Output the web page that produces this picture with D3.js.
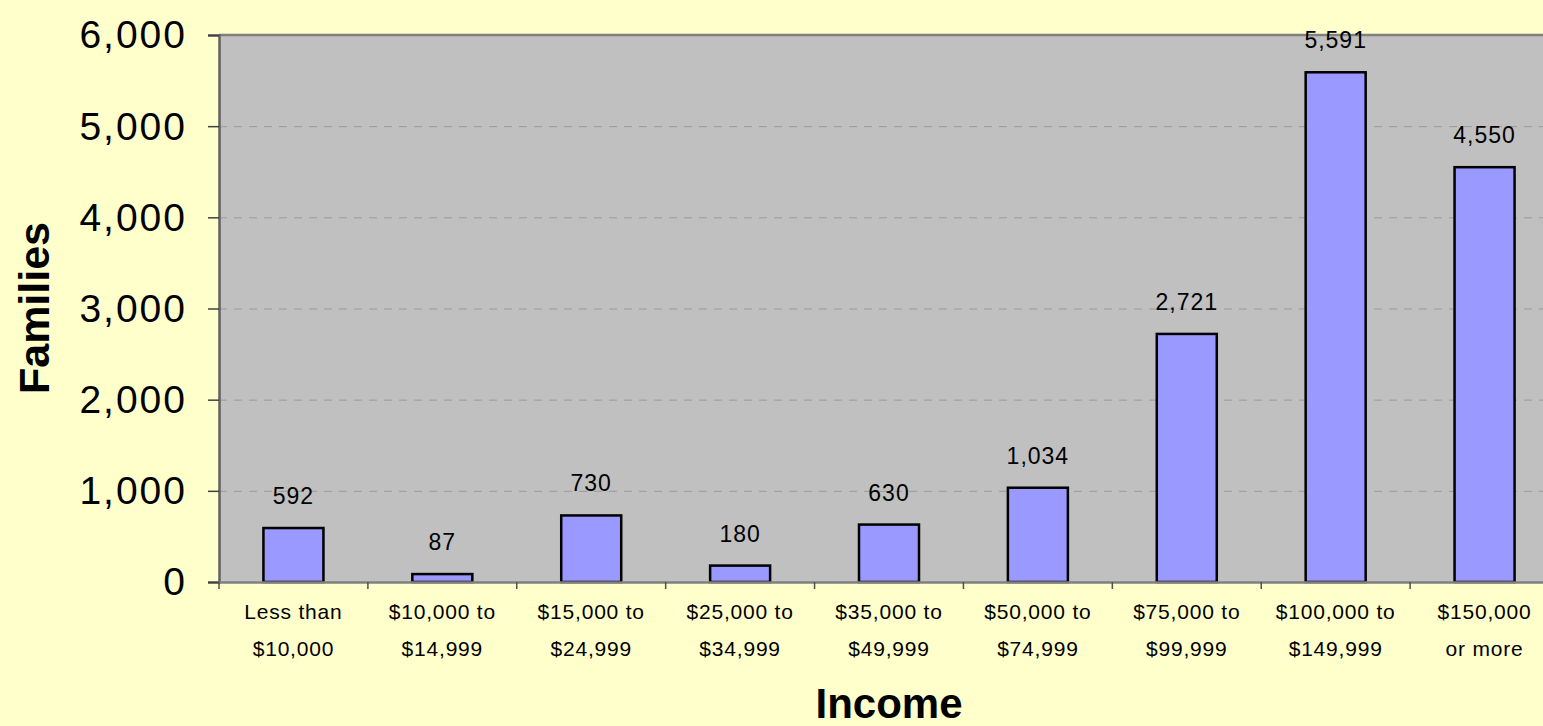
<!DOCTYPE html>
<html>
<head>
<meta charset="utf-8">
<script src="https://cdn.jsdelivr.net/npm/d3@7"></script>
<style>
  body { margin: 0; background: #ffffcc; }
  svg { display: block; font-family: "Liberation Sans", Arial, sans-serif; }
</style>
</head>
<body>
<svg width="1543" height="726"></svg>
<script>
const categories = ['Less than $10,000', '$10,000 to $14,999', '$15,000 to $24,999', '$25,000 to $34,999',
  '$35,000 to $49,999', '$50,000 to $74,999', '$75,000 to $99,999', '$100,000 to $149,999', '$150,000 or more'];
const categoryLines = [
  ['Less than', '$10,000'], ['$10,000 to', '$14,999'], ['$15,000 to', '$24,999'], ['$25,000 to', '$34,999'],
  ['$35,000 to', '$49,999'], ['$50,000 to', '$74,999'], ['$75,000 to', '$99,999'], ['$100,000 to', '$149,999'],
  ['$150,000', 'or more']
];
const families = [592, 87, 730, 180, 630, 1034, 2721, 5591, 4550];
const yTicks = [0, 1000, 2000, 3000, 4000, 5000, 6000];

const data = categories.map((c, i) => ({ category: c, lines: categoryLines[i], value: families[i] }));

const marginLeft = 219, marginTop = 35;
const width = 1340;   // plot runs past the right edge of the picture
const height = 547;

const svg = d3.select('svg');
svg.append('rect').attr('width', 1543).attr('height', 726).attr('fill', '#ffffcc');

const chart = svg.append('g').attr('transform', `translate(${marginLeft}, ${marginTop})`);

const yScale = d3.scaleLinear().range([height, 0]).domain([0, 6000]);
const xScale = d3.scaleBand().range([0, width]).domain(categories);

// plot background
chart.append('rect')
  .attr('width', width)
  .attr('height', height)
  .attr('fill', '#c0c0c0');

// dashed grid
chart.append('g')
  .selectAll('line')
  .data(yTicks.filter(t => t > 0 && t < 6000))
  .enter()
  .append('line')
  .attr('x1', 0)
  .attr('x2', width)
  .attr('y1', d => yScale(d) + 0.5)
  .attr('y2', d => yScale(d) + 0.5)
  .attr('stroke', '#9a9a9a')
  .attr('stroke-width', 1)
  .attr('stroke-dasharray', '8,7');

// top border
chart.append('line')
  .attr('x1', 0).attr('x2', width)
  .attr('y1', 0).attr('y2', 0)
  .attr('stroke', '#808080').attr('stroke-width', 2.5);

// bars
chart.selectAll('.bar')
  .data(data)
  .enter()
  .append('rect')
  .attr('class', 'bar')
  .attr('x', d => xScale(d.category) + xScale.bandwidth() / 2 - 30)
  .attr('y', d => yScale(d.value))
  .attr('width', 60)
  .attr('height', d => height - yScale(d.value))
  .attr('fill', '#9999ff')
  .attr('stroke', '#000')
  .attr('stroke-width', 2.5);

// value labels
chart.selectAll('.val')
  .data(data)
  .enter()
  .append('text')
  .attr('class', 'val')
  .attr('x', d => xScale(d.category) + xScale.bandwidth() / 2)
  .attr('y', d => yScale(d.value) - 24)
  .attr('text-anchor', 'middle')
  .attr('font-size', 23)
  .attr('letter-spacing', 1)
  .attr('fill', '#000')
  .text(d => d3.format(',')(d.value));

// y axis
const yAxis = chart.append('g')
  .call(d3.axisLeft(yScale).tickValues(yTicks).tickSize(11).tickPadding(21).tickFormat(d3.format(',')));
yAxis.select('.domain').attr('stroke', '#606060').attr('stroke-width', 2.5);
yAxis.selectAll('.tick line').attr('stroke', '#404040').attr('stroke-width', 1.5);
yAxis.selectAll('.tick text').attr('font-size', 39).attr('fill', '#000').attr('dy', '0.33em')
  .attr('letter-spacing', 2)
  .attr('font-family', '"Liberation Sans", Arial, sans-serif');

// x axis
const xAxis = chart.append('g')
  .attr('transform', `translate(0, ${height})`)
  .call(d3.axisBottom(xScale).tickSize(0).tickFormat(''));
xAxis.select('.domain').attr('stroke', '#808080').attr('stroke-width', 2.5);

// category boundary ticks
chart.append('g')
  .selectAll('line')
  .data(categories)
  .enter()
  .append('line')
  .attr('x1', d => xScale(d))
  .attr('x2', d => xScale(d))
  .attr('y1', height)
  .attr('y2', height + 7)
  .attr('stroke', '#505050')
  .attr('stroke-width', 1.5);

// category labels
const cat = chart.append('g')
  .selectAll('text')
  .data(data)
  .enter()
  .append('text')
  .attr('text-anchor', 'middle')
  .attr('font-size', 21)
  .attr('letter-spacing', 0.8)
  .attr('fill', '#000');
cat.selectAll('tspan')
  .data(d => d.lines.map(l => ({ l, x: xScale(d.category) + xScale.bandwidth() / 2 })))
  .enter()
  .append('tspan')
  .attr('x', d => d.x)
  .attr('y', (d, i) => height + 37 + i * 37)
  .text(d => d.l);

// axis titles
svg.append('text')
  .attr('x', -308)
  .attr('y', 49)
  .attr('transform', 'rotate(-90)')
  .attr('text-anchor', 'middle')
  .attr('font-size', 43)
  .attr('font-weight', 'bold')
  .text('Families');

svg.append('text')
  .attr('x', marginLeft + width / 2)
  .attr('y', 718)
  .attr('text-anchor', 'middle')
  .attr('font-size', 42)
  .attr('font-weight', 'bold')
  .text('Income');
</script>
</body>
</html>
